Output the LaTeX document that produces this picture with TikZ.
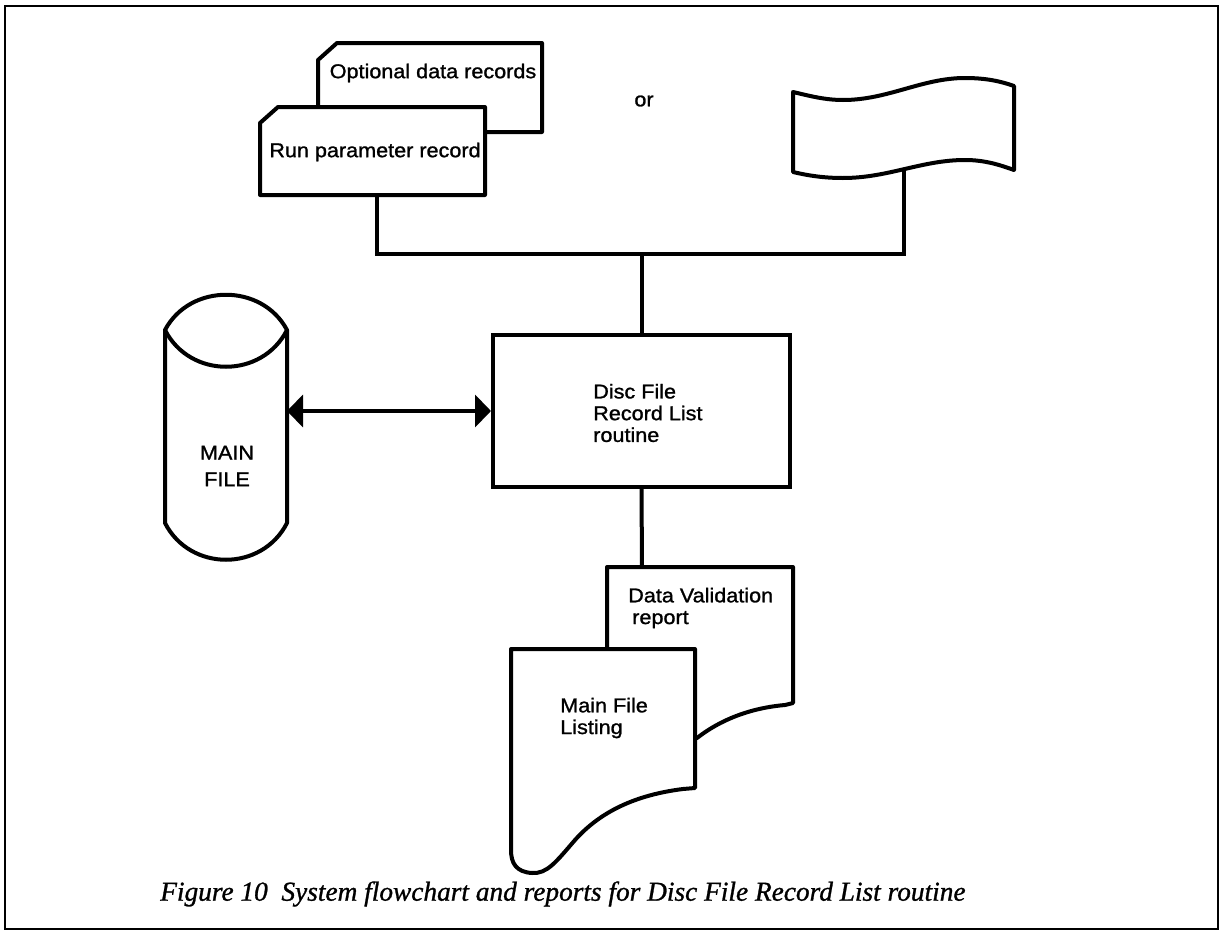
\documentclass[tikz,border=0pt]{standalone}
\usepackage{fontspec}
\newfontfamily\labelfont{Liberation Sans}[FakeStretch=1.08,FakeBold=1.2]
\newfontfamily\capfont{Liberation Serif}[FakeBold=1.0]
\usetikzlibrary{arrows.meta}
\begin{document}
\begin{tikzpicture}[x=0.75pt,y=-0.75pt,
  outline/.style={line width=3pt, line join=round, fill=white},
  link/.style={line width=3pt},
  labeltext/.style={font=\labelfont\fontsize{15}{16.3}\selectfont, inner sep=0pt, align=left},
  headtip/.tip={Triangle[length=12pt,width=24pt]}]
\useasboundingbox (0,0) rectangle (1221,935);

% page frame
\draw[line width=2.2pt] (5,6) rectangle (1218,929);

% input cards
\draw[outline] (318,60) -- (337,43) -- (542,43) -- (542,132) -- (318,132) -- cycle;
\draw[outline] (260,123) -- (278,107) -- (485,107) -- (485,195) -- (260,195) -- cycle;
\node[labeltext] (optrec) at (433,73) {Optional data records};
\node[labeltext] (runrec) at (375,152) {Run parameter record};
\coordinate (runb) at (377,195);

\node[labeltext] (or) at (644,101) {or};

% punched tape
\draw[outline] (793,92) .. controls (810,96) and (825,100) .. (843,100)
  .. controls (888,100) and (922,78) .. (965,78)
  .. controls (985,78) and (1000,81) .. (1014,86)
  -- (1014,170)
  .. controls (1000,165) and (985,160) .. (965,160)
  .. controls (922,160) and (888,178) .. (843,178)
  .. controls (825,178) and (810,176) .. (793,172) -- cycle;
\coordinate (tapeb) at (904,170);

% process box
\node[draw, line width=3pt, minimum width=222.75pt, minimum height=114pt] (proc) at (641.5,411) {};
\node[labeltext, anchor=west] (proctext) at (593,413) {Disc File\\Record List\\routine};

% main file (disc storage)
\draw[outline] (165,330) .. controls (190,283) and (262,283) .. (287,330) -- (287,523)
  .. controls (262,572) and (190,572) .. (165,523) -- cycle;
\draw[line width=3pt] (165,330) .. controls (190,379) and (262,379) .. (287,330);
\node[labeltext, align=center, font=\labelfont\fontsize{15}{20}\selectfont] (mainfile) at (227,466) {MAIN\\FILE};
\coordinate (cylr) at (287,411);

% reports
\draw[outline] (607,738) -- (607,567) -- (793,567) -- (793,703) -- (785,705)
  .. controls (750,708) and (720,720) .. (697,738) -- cycle;
\node[labeltext, anchor=west] (dvr) at (628,608) {Data Validation\\\hspace*{3pt}report};
\coordinate (dvrt) at (642,567);
\draw[outline] (511,649) -- (695,649) -- (695,788) -- (683,789)
  .. controls (635,795) and (600,812) .. (575,840)
  .. controls (556,862) and (547,874) .. (532,873)
  .. controls (516,872) and (511,863) .. (511,850) -- cycle;
\node[labeltext, anchor=west] (mfl) at (560,718) {Main File\\Listing};

% connectors
\coordinate (bus) at (641.5,254);
\draw[link] (runb) |- (bus) -| (tapeb);
\draw[link] (bus) -- (proc.north);
\draw[link] (proc.south) -- (dvrt);
\draw[link, headtip-headtip] (cylr) -- (proc.west);

% caption
\node[anchor=west, inner sep=0pt, font=\capfont\itshape\fontsize{20.5}{24}\selectfont] (caption) at (160,894)
  {Figure 10\hspace{0.5em}System flowchart and reports for Disc File Record List routine};
\end{tikzpicture}
\end{document}
